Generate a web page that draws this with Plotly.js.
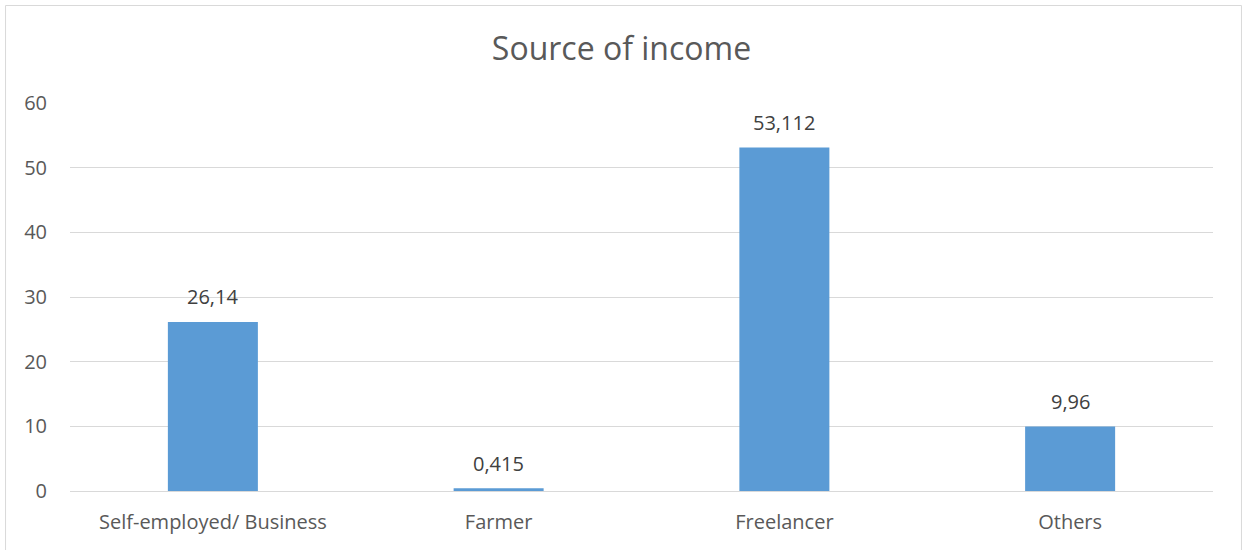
<!DOCTYPE html>
<html>
<head>
<meta charset="utf-8">
<script src="https://cdn.plot.ly/plotly-3.0.1.min.js"></script>
<style>html,body{margin:0;padding:0;background:#fff;}#chart{width:1243px;height:550px;}</style>
</head>
<body>
<div id="chart"></div>
<script>
const categories = ["Self-employed/ Business", "Farmer", "Freelancer", "Others"];
const values = [26.14, 0.415, 53.112, 9.96];
const labels = ["26,14", "0,415", "53,112", "9,96"];
const yTicks = [0, 10, 20, 30, 40, 50, 60];

const font = "Open Sans, Liberation Sans, sans-serif";

const trace = {
  type: "bar",
  x: categories,
  y: values,
  marker: {color: "#5B9BD5"},
  hoverinfo: "none"
};

const annotations = categories.map((c, i) => ({
  x: c, y: values[i], xref: "x", yref: "y",
  text: labels[i], showarrow: false,
  yanchor: "middle", yshift: 25,
  font: {family: font, size: 20, color: "#404040"}
}));

const layout = {
  width: 1243, height: 550,
  margin: {l: 70, r: 30, t: 103, b: 59},
  paper_bgcolor: "#fff", plot_bgcolor: "#fff",
  bargap: 0.685,
  title: {text: "Source of income", x: 0.5, xanchor: "center", y: 0.912, yanchor: "middle",
          font: {family: font, size: 32, color: "#595959"}},
  xaxis: {
    type: "category", showgrid: false, zeroline: false,
    showline: false, ticks: "", ticklabelstandoff: 17,
    tickfont: {family: font, size: 20, color: "#595959"}
  },
  yaxis: {
    range: [0, 60], tickvals: yTicks, ticktext: yTicks.map(String),
    showgrid: true, gridcolor: "#d9d9d9", gridwidth: 1,
    zeroline: true, zerolinecolor: "#d9d9d9", zerolinewidth: 1,
    showline: false, ticks: "", ticklen: 0, ticklabelstandoff: 22,
    tickfont: {family: font, size: 20, color: "#595959"}
  },
  annotations: annotations,
  shapes: [{
    type: "rect", xref: "paper", yref: "paper",
    x0: -0.0564, x1: 1.0249, y0: -0.3, y1: 1.2513,
    line: {color: "#d9d9d9", width: 1}, fillcolor: "rgba(0,0,0,0)", layer: "below"
  }],
  showlegend: false
};

Plotly.newPlot("chart", [trace], layout, {displayModeBar: false, staticPlot: true});
</script>
</body>
</html>
